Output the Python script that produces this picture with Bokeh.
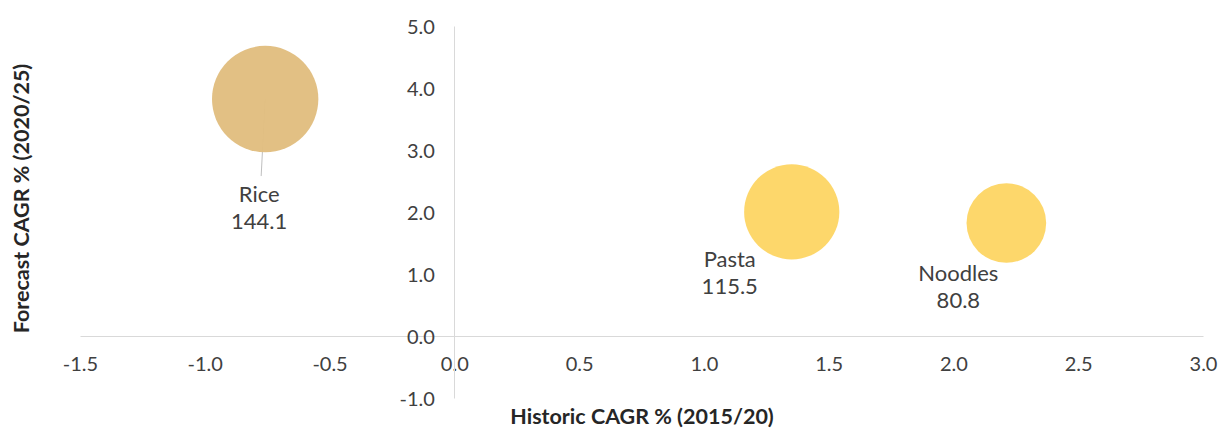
import math
from bokeh.plotting import figure
from bokeh.models import ColumnDataSource, Range1d, FixedTicker, Label, NumeralTickFormatter
from bokeh.core.properties import value
from bokeh.embed import file_html
from bokeh.resources import INLINE

# ---- data ----
categories = ["Rice", "Pasta", "Noodles"]
historic_cagr = [-0.76, 1.35, 2.21]      # x: Historic CAGR % (2015/20)
forecast_cagr = [3.83, 2.01, 1.83]       # y: Forecast CAGR % (2020/25)
market_size = [144.1, 115.5, 80.8]       # bubble size
bubble_colors = ["#E1BE80", "#FDD666", "#FDD666"]
x_ticks = [-1.5, -1.0, -0.5, 0.0, 0.5, 1.0, 1.5, 2.0, 2.5, 3.0]
y_ticks = [-1.0, 0.0, 1.0, 2.0, 3.0, 4.0, 5.0]
x_title = "Historic CAGR % (2015/20)"
y_title = "Forecast CAGR % (2020/25)"

# ---- style / layout ----
W, H = 1220, 428
X_MIN, X_MAX = -1.5, 3.0
Y_MIN, Y_MAX = -1.0, 5.0
AX_LEFT, AX_RIGHT, AX_TOP, AX_BOTTOM = 80, 1203, 26, 398   # px where the axis bounds sit
PX_X = (AX_RIGHT - AX_LEFT) / (X_MAX - X_MIN)
PX_Y = (AX_BOTTOM - AX_TOP) / (Y_MAX - Y_MIN)
x_start = X_MIN - AX_LEFT / PX_X
y_end = Y_MAX + AX_TOP / PX_Y
SIZE_SCALE = 8.86                      # px diameter per sqrt(value)
LABEL_DX = [-6, -62, -48]              # px offset of label centre from bubble centre
LABEL_DY = [94, 47, 49]                # px (down) offset of first label line
LINE_GAP = 28
FONT = "Lato"
TXT = "#404040"

p = figure(width=W, height=H,
           x_range=Range1d(x_start, x_start + W / PX_X),
           y_range=Range1d(y_end - H / PX_Y, y_end),
           output_backend="svg", toolbar_location=None,
           min_border_left=0, min_border_right=0, min_border_top=0, min_border_bottom=0)
p.outline_line_color = None
p.grid.visible = False
p.background_fill_color = "white"
p.border_fill_color = "white"

for ax, ticks, bounds in ((p.xaxis, x_ticks, (X_MIN, X_MAX)), (p.yaxis, y_ticks, (Y_MIN, Y_MAX))):
    ax.fixed_location = 0
    ax.bounds = bounds
    ax.ticker = FixedTicker(ticks=ticks)
    ax.formatter = NumeralTickFormatter(format="0.0")
    ax.major_tick_out = 0
    ax.major_tick_in = 0
    ax.minor_tick_out = 0
    ax.minor_tick_in = 0
    ax.axis_line_color = "#D9D9D9"
    ax.axis_line_width = 1
    ax.major_label_text_font = FONT
    ax.major_label_text_font_size = "20px"
    ax.major_label_text_color = TXT
p.xaxis.major_label_standoff = 20
p.yaxis.major_label_standoff = 20

src = ColumnDataSource(dict(
    x=historic_cagr, y=forecast_cagr, name=categories,
    val=["%.1f" % v for v in market_size],
    size=[SIZE_SCALE * math.sqrt(v) for v in market_size],
    color=bubble_colors,
    dx=LABEL_DX, dy1=LABEL_DY, dy2=[d + LINE_GAP for d in LABEL_DY],
))

# leader line for Rice (from bubble centre down to its label)
p.segment(x0=[historic_cagr[0]], y0=[forecast_cagr[0]],
          x1=[historic_cagr[0] + (LABEL_DX[0] + 2) / PX_X],
          y1=[forecast_cagr[0] - (LABEL_DY[0] - 17) / PX_Y],
          line_color="#BFBFBF", line_width=1)

p.scatter(x="x", y="y", size="size", fill_color="color", line_color=None,
          fill_alpha=0.97, source=src)

p.text(x="x", y="y", text="name", x_offset="dx", y_offset="dy1", source=src,
       text_align="center", text_baseline="middle", text_font=value(FONT),
       text_font_size="22px", text_color=TXT)
p.text(x="x", y="y", text="val", x_offset="dx", y_offset="dy2", source=src,
       text_align="center", text_baseline="middle", text_font=value(FONT),
       text_font_size="22px", text_color=TXT)

p.add_layout(Label(x=(X_MIN + X_MAX) / 2, y=Y_MIN, y_offset=-17, text=x_title,
                   text_align="center", text_baseline="middle", text_font=FONT,
                   text_font_size="21.5px", text_font_style="bold", text_color="#262626"))
p.add_layout(Label(x=X_MIN, y=(Y_MIN + Y_MAX) / 2, x_offset=-60, y_offset=14,
                   angle=math.pi / 2, text=y_title, text_align="center",
                   text_baseline="middle", text_font=FONT, text_font_size="21.5px",
                   text_font_style="bold", text_color="#262626"))

open("out.html", "w").write(file_html(p, INLINE))
